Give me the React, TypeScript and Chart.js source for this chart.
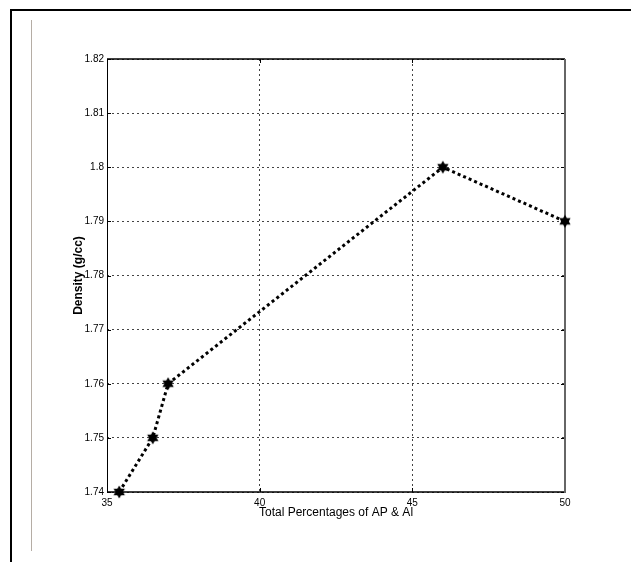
import React, { useEffect, useRef } from "react";
import { Chart, registerables } from "chart.js";

Chart.register(...registerables);

const xValues = [35.4, 36.5, 37, 46, 50];
const densities = [1.74, 1.75, 1.76, 1.8, 1.79];
const xTitle = "Total Percentages of AP & Al";
const yTitle = "Density (g/cc)";
const xMin = 35, xMax = 50, xStep = 5;
const yMin = 1.74, yMax = 1.82, yStep = 0.01;

function makeStar(): HTMLCanvasElement {
  const size = 14;
  const c = document.createElement("canvas");
  c.width = size;
  c.height = size;
  const ctx = c.getContext("2d")!;
  const cx = size / 2, cy = size / 2, r = 6.5, ri = 3.8;
  ctx.fillStyle = "#000";
  ctx.beginPath();
  for (let i = 0; i < 12; i++) {
    const a = (Math.PI / 6) * i - Math.PI / 2;
    const rr = i % 2 === 0 ? r : ri;
    const px = cx + rr * Math.cos(a), py = cy + rr * Math.sin(a);
    if (i === 0) ctx.moveTo(px, py); else ctx.lineTo(px, py);
  }
  ctx.closePath();
  ctx.fill();
  return c;
}

const boxPlugin = {
  id: "matlabBox",
  beforeDatasetsDraw(chart: any) {
    const { ctx, chartArea: a, scales } = chart;
    ctx.save();
    ctx.setLineDash([]);
    ctx.strokeStyle = "#000";
    ctx.lineWidth = 1;
    const tl = 4;
    scales.y.ticks.forEach((t: any) => {
      const y = Math.round(scales.y.getPixelForValue(t.value)) + 0.5;
      ctx.beginPath();
      ctx.moveTo(a.left, y); ctx.lineTo(a.left + tl, y);
      ctx.moveTo(a.right, y); ctx.lineTo(a.right - tl, y);
      ctx.stroke();
    });
    scales.x.ticks.forEach((t: any) => {
      const x = Math.round(scales.x.getPixelForValue(t.value)) + 0.5;
      ctx.beginPath();
      ctx.moveTo(x, a.bottom); ctx.lineTo(x, a.bottom - tl);
      ctx.moveTo(x, a.top); ctx.lineTo(x, a.top + tl);
      ctx.stroke();
    });
    ctx.lineWidth = 1.5;
    ctx.strokeStyle = "#000";
    ctx.beginPath();
    ctx.moveTo(a.left, a.top); ctx.lineTo(a.right, a.top);
    ctx.moveTo(a.left, a.bottom); ctx.lineTo(a.right, a.bottom);
    ctx.stroke();
    ctx.lineWidth = 1;
    ctx.beginPath();
    ctx.moveTo(a.left + 0.5, a.top); ctx.lineTo(a.left + 0.5, a.bottom);
    ctx.stroke();
    ctx.lineWidth = 2;
    ctx.strokeStyle = "#666";
    ctx.beginPath();
    ctx.moveTo(a.right, a.top); ctx.lineTo(a.right, a.bottom + 1);
    ctx.stroke();
    ctx.restore();
  },
};

export default function App() {
  const ref = useRef<HTMLCanvasElement>(null);
  useEffect(() => {
    document.body.style.margin = "0";
    const star = makeStar();
    const tickFont = { family: "'Liberation Sans Narrow', 'Liberation Sans', Arial, sans-serif", size: 10 };
    const chart = new Chart(ref.current!, {
      type: "scatter",
      data: {
        datasets: [
          {
            data: xValues.map((x, i) => ({ x, y: densities[i] })),
            showLine: true,
            borderColor: "#000",
            borderWidth: 3,
            borderDash: [3, 3],
            pointStyle: star as any,
            pointRadius: 7,
            backgroundColor: "#000",
            clip: false as any,
          },
        ],
      },
      plugins: [boxPlugin],
      options: {
        animation: false,
        responsive: false,
        maintainAspectRatio: false,
        layout: { padding: { left: 0, top: 59, right: 66, bottom: 0 } },
        plugins: { legend: { display: false }, tooltip: { enabled: false } },
        scales: {
          x: {
            type: "linear",
            min: xMin,
            max: xMax,
            afterFit: (s: any) => { s.height = 70; },
            ticks: { stepSize: xStep, color: "#000", font: tickFont, padding: 5, maxRotation: 0 },
            grid: { color: "#444", lineWidth: 1, drawTicks: false },
            border: { display: false, dash: [2, 3] },
            title: {
              display: true,
              text: xTitle,
              color: "#000",
              font: { family: "'Liberation Sans', Arial, sans-serif", size: 12 },
              padding: { top: 0, bottom: 42 },
            },
          },
          y: {
            type: "linear",
            min: yMin,
            max: yMax,
            afterFit: (s: any) => { s.width = 107; },
            ticks: {
              stepSize: yStep,
              color: "#000",
              font: tickFont,
              padding: 3,
              callback: (v: any) => String(Number(Number(v).toFixed(2))),
            },
            grid: { color: "#444", lineWidth: 1, drawTicks: false },
            border: { display: false, dash: [2, 3] },
            title: {
              display: true,
              text: yTitle,
              color: "#000",
              font: { family: "'Liberation Sans', Arial, sans-serif", size: 12, weight: "bold" },
              padding: { top: 71, bottom: 0 },
            },
          },
        },
      },
    });
    return () => chart.destroy();
  }, []);
  return (
    <div style={{ position: "fixed", left: 0, top: 0, width: 631, height: 562, background: "#fff", overflow: "hidden" }}>
      <div style={{ position: "absolute", left: 10, top: 9, width: 2, height: 560, background: "#000" }} />
      <div style={{ position: "absolute", left: 10, top: 9, width: 630, height: 2, background: "#000" }} />
      <div style={{ position: "absolute", left: 31, top: 20, width: 1, height: 531, background: "#b5ada5" }} />
      <canvas ref={ref} width={631} height={562} style={{ position: "absolute", left: 0, top: 0 }} />
    </div>
  );
}
